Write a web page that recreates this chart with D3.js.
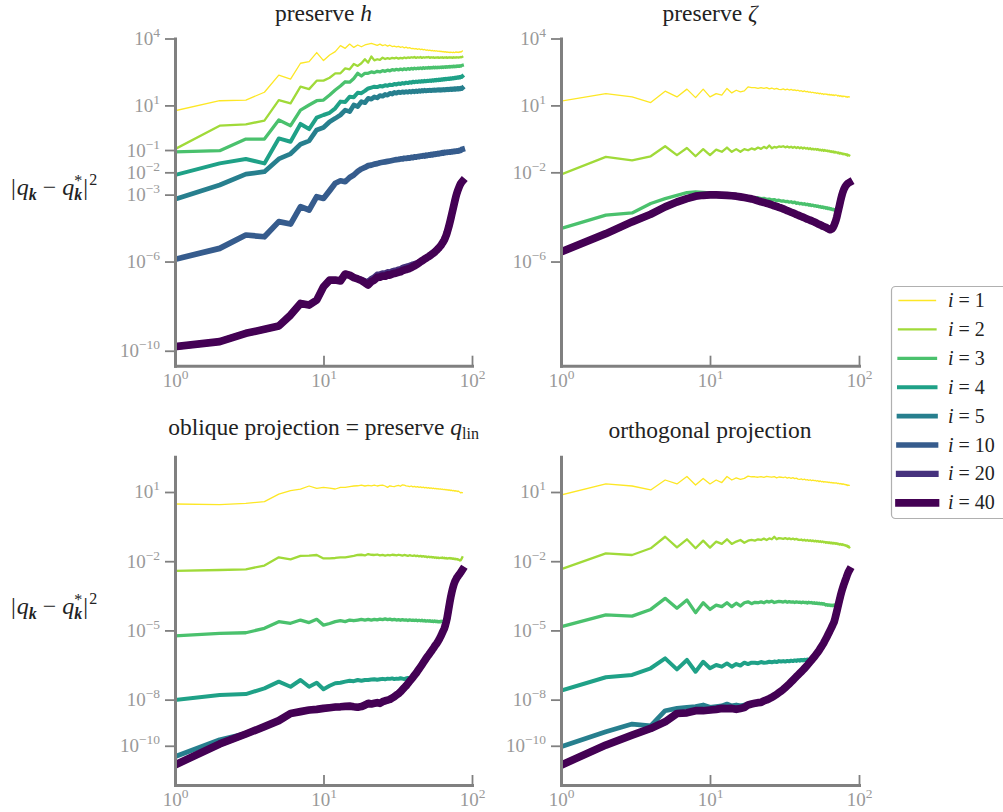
<!DOCTYPE html>
<html>
<head>
<meta charset="utf-8">
<script src="https://cdn.jsdelivr.net/npm/d3@7"></script>
<style>
  body { margin: 0; background: #fff; }
  svg, svg text { font-family: "Liberation Serif", "DejaVu Serif", serif; }
</style>
</head>
<body>
<svg id="chart" width="1003" height="812"></svg>
<script>
// Wavenumber index k on the x axis
const wavenumbers = d3.range(1, 87);
// Iteration counts shown in the legend
const iterationLabels = ["1", "2", "3", "4", "5", "10", "20", "40"];

// Tick exponents (labels 10^e) for each panel
const ticksPreserveH = [4, 1, -1, -2, -3, -6, -10];
const ticksPreserveZeta = [4, 1, -2, -6];
const ticksProjection = [1, -2, -5, -8, -10];
const xTickExponents = [0, 1, 2];

// log10 |q_k - q_k*|^2, one value per wavenumber k = 1..86

// --- preserve h ---
const preserveH_i1 = [0.76,1.21,1.24,1.59,2.36,2.18,2.89,2.96,3.37,3.01,
 3.26,3.41,3.68,3.56,3.75,3.60,3.71,3.63,3.71,3.75,
 3.78,3.74,3.69,3.75,3.68,3.72,3.66,3.70,3.64,3.66,
 3.62,3.65,3.60,3.63,3.58,3.61,3.57,3.59,3.55,3.56,
 3.53,3.55,3.51,3.54,3.50,3.52,3.49,3.51,3.47,3.49,
 3.46,3.48,3.45,3.47,3.44,3.46,3.43,3.45,3.42,3.44,
 3.41,3.43,3.40,3.42,3.39,3.41,3.38,3.40,3.38,3.39,
 3.37,3.39,3.38,3.37,3.39,3.37,3.38,3.40,3.38,3.39,
 3.37,3.40,3.38,3.41,3.40,3.44];
const preserveH_i2 = [-0.96,0.09,0.15,0.32,1.24,1.09,1.84,1.73,2.11,2.11,
 2.24,2.44,2.44,2.66,2.62,2.86,2.77,2.89,3.07,2.92,
 3.19,3.02,3.07,3.04,3.14,3.08,3.12,3.09,3.13,3.11,
 3.14,3.10,3.13,3.11,3.15,3.12,3.15,3.13,3.16,3.14,
 3.17,3.13,3.16,3.14,3.17,3.13,3.16,3.14,3.16,3.15,
 3.17,3.13,3.16,3.14,3.16,3.13,3.15,3.14,3.16,3.13,
 3.15,3.14,3.16,3.13,3.15,3.14,3.16,3.13,3.15,3.14,
 3.16,3.14,3.15,3.13,3.16,3.14,3.15,3.14,3.16,3.15,
 3.14,3.16,3.15,3.17,3.16,3.18];
const preserveH_i3 = [-1.08,-1.03,-0.51,-0.51,0.35,0.09,0.79,1.02,1.21,1.24,
 1.47,1.69,1.87,2.06,2.04,2.21,2.44,2.32,2.44,2.44,
 2.50,2.47,2.53,2.50,2.56,2.53,2.58,2.55,2.60,2.58,
 2.62,2.59,2.63,2.60,2.64,2.61,2.65,2.62,2.66,2.63,
 2.67,2.64,2.67,2.65,2.68,2.65,2.69,2.66,2.69,2.67,
 2.70,2.67,2.70,2.68,2.71,2.68,2.71,2.69,2.72,2.69,
 2.72,2.70,2.73,2.70,2.73,2.71,2.74,2.71,2.74,2.72,
 2.75,2.72,2.75,2.73,2.76,2.73,2.76,2.74,2.77,2.75,
 2.77,2.75,2.78,2.76,2.79,2.80];
const preserveH_i4 = [-2.12,-1.60,-1.40,-1.60,-0.48,-0.63,0.17,-0.06,0.45,0.57,
 0.67,0.87,1.17,1.15,1.39,1.37,1.57,1.55,1.65,1.76,
 1.80,1.84,1.82,1.87,1.85,1.90,1.88,1.93,1.91,1.96,
 1.94,1.98,1.96,2.00,1.98,2.02,2.00,2.04,2.02,2.06,
 2.04,2.07,2.05,2.08,2.06,2.09,2.07,2.10,2.08,2.11,
 2.09,2.12,2.10,2.13,2.11,2.14,2.12,2.15,2.13,2.16,
 2.14,2.17,2.15,2.18,2.16,2.19,2.17,2.20,2.18,2.21,
 2.19,2.22,2.20,2.23,2.21,2.24,2.22,2.25,2.23,2.26,
 2.24,2.27,2.25,2.28,2.27,2.30];
const preserveH_i5 = [-3.21,-2.57,-2.08,-1.97,-1.40,-1.17,-0.74,-0.59,-0.10,0.01,
 0.27,0.42,0.57,0.79,0.72,1.02,0.95,1.17,1.12,1.32,
 1.28,1.38,1.34,1.44,1.41,1.49,1.46,1.54,1.51,1.58,
 1.55,1.60,1.57,1.61,1.58,1.62,1.59,1.63,1.60,1.64,
 1.61,1.65,1.62,1.66,1.63,1.67,1.64,1.68,1.65,1.68,
 1.66,1.69,1.66,1.69,1.67,1.70,1.67,1.70,1.68,1.71,
 1.68,1.71,1.69,1.72,1.69,1.72,1.70,1.73,1.70,1.73,
 1.71,1.74,1.71,1.74,1.72,1.75,1.72,1.75,1.73,1.76,
 1.73,1.76,1.74,1.77,1.75,1.78];
const preserveH_i10 = [-5.90,-5.41,-4.81,-4.89,-4.21,-4.32,-3.54,-3.69,-3.09,-3.17,
 -2.82,-2.49,-2.38,-2.42,-2.23,-2.12,-1.96,-1.85,-1.78,-1.70,
 -1.68,-1.63,-1.61,-1.57,-1.55,-1.53,-1.51,-1.49,-1.47,-1.45,
 -1.43,-1.42,-1.40,-1.40,-1.37,-1.38,-1.35,-1.36,-1.33,-1.34,
 -1.31,-1.32,-1.29,-1.30,-1.27,-1.28,-1.25,-1.27,-1.23,-1.25,
 -1.22,-1.23,-1.20,-1.22,-1.18,-1.20,-1.17,-1.18,-1.15,-1.17,
 -1.14,-1.15,-1.12,-1.14,-1.11,-1.12,-1.10,-1.11,-1.09,-1.10,
 -1.08,-1.09,-1.07,-1.08,-1.06,-1.07,-1.05,-1.06,-1.04,-1.05,
 -1.03,-1.04,-1.01,-1.02,-0.98,-0.97];
const preserveH_i20 = [-9.82,-9.59,-9.22,-9.04,-8.89,-8.40,-7.88,-7.95,-7.73,-7.13,
 -6.83,-6.83,-6.87,-6.56,-6.61,-6.72,-6.78,-6.82,-6.88,-6.93,
 -6.78,-6.71,-6.59,-6.58,-6.53,-6.54,-6.48,-6.49,-6.44,-6.41,
 -6.39,-6.36,-6.34,-6.29,-6.26,-6.24,-6.21,-6.19,-6.16,-6.13,
 -6.11,-6.09,-6.07,-6.04,-6.01,-5.97,-5.93,-5.89,-5.85,-5.81,
 -5.78,-5.74,-5.70,-5.66,-5.62,-5.58,-5.53,-5.48,-5.43,-5.38,
 -5.32,-5.26,-5.19,-5.12,-5.04,-4.94,-4.83,-4.70,-4.55,-4.40,
 -4.24,-4.07,-3.90,-3.73,-3.56,-3.39,-3.23,-3.08,-2.95,-2.84,
 -2.74,-2.65,-2.57,-2.50,-2.45,-2.41];
const preserveH_i40 = [-9.82,-9.59,-9.22,-9.04,-8.89,-8.40,-7.88,-7.95,-7.73,-7.13,
 -6.83,-6.83,-6.87,-6.56,-6.61,-6.72,-6.78,-6.85,-6.95,-7.05,
 -6.90,-6.83,-6.71,-6.70,-6.65,-6.66,-6.60,-6.61,-6.56,-6.53,
 -6.51,-6.48,-6.46,-6.41,-6.38,-6.36,-6.33,-6.31,-6.27,-6.23,
 -6.19,-6.15,-6.11,-6.06,-6.01,-5.97,-5.93,-5.89,-5.85,-5.81,
 -5.78,-5.74,-5.70,-5.66,-5.62,-5.58,-5.53,-5.48,-5.43,-5.38,
 -5.32,-5.26,-5.19,-5.12,-5.04,-4.94,-4.83,-4.70,-4.55,-4.40,
 -4.24,-4.07,-3.90,-3.73,-3.56,-3.39,-3.23,-3.08,-2.95,-2.84,
 -2.74,-2.65,-2.57,-2.50,-2.45,-2.41];

// --- preserve zeta ---
const preserveZeta_i1 = [1.19,1.53,1.38,1.13,1.64,1.38,1.73,1.35,1.73,1.38,
 1.53,1.46,1.76,1.56,1.68,1.61,1.65,1.83,1.80,1.80,
 1.76,1.80,1.76,1.80,1.74,1.78,1.73,1.76,1.72,1.71,
 1.74,1.70,1.73,1.69,1.72,1.68,1.70,1.66,1.68,1.64,
 1.66,1.62,1.65,1.61,1.63,1.59,1.61,1.57,1.59,1.56,
 1.57,1.54,1.56,1.52,1.55,1.51,1.53,1.49,1.52,1.50,
 1.51,1.47,1.50,1.46,1.49,1.45,1.48,1.44,1.47,1.46,
 1.46,1.42,1.45,1.41,1.44,1.40,1.43,1.39,1.42,1.41,
 1.40,1.37,1.40,1.36,1.39,1.38];
const preserveZeta_i2 = [-2.10,-1.31,-1.46,-1.28,-0.83,-1.23,-0.91,-1.28,-0.96,-1.23,
 -0.98,-1.08,-0.89,-1.08,-0.96,-1.08,-0.96,-1.01,-0.93,-0.98,
 -0.89,-0.95,-0.86,-0.92,-0.80,-0.92,-0.86,-0.89,-0.84,-0.86,
 -0.83,-0.88,-0.84,-0.89,-0.85,-0.90,-0.86,-0.91,-0.87,-0.92,
 -0.88,-0.93,-0.89,-0.94,-0.91,-0.96,-0.92,-0.97,-0.94,-0.98,
 -0.95,-0.99,-0.96,-1.01,-0.98,-1.02,-0.99,-1.04,-1.00,-1.04,
 -1.02,-1.06,-1.03,-1.08,-1.05,-1.09,-1.06,-1.11,-1.08,-1.11,
 -1.10,-1.14,-1.11,-1.16,-1.13,-1.17,-1.15,-1.19,-1.16,-1.19,
 -1.18,-1.22,-1.19,-1.25,-1.22,-1.24];
const preserveZeta_i3 = [-4.52,-3.92,-3.82,-3.40,-3.18,-3.03,-2.91,-2.88,-2.90,-2.92,
 -2.95,-2.97,-3.00,-3.02,-3.04,-3.06,-3.08,-3.10,-3.13,-3.15,
 -3.14,-3.18,-3.17,-3.21,-3.20,-3.24,-3.22,-3.27,-3.25,-3.29,
 -3.28,-3.31,-3.30,-3.34,-3.32,-3.36,-3.34,-3.39,-3.37,-3.41,
 -3.39,-3.43,-3.41,-3.45,-3.43,-3.47,-3.45,-3.49,-3.47,-3.51,
 -3.49,-3.53,-3.51,-3.55,-3.53,-3.57,-3.55,-3.59,-3.57,-3.61,
 -3.59,-3.63,-3.61,-3.65,-3.63,-3.67,-3.65,-3.69,-3.68,-3.70,
 -3.85,-3.80,-3.65,-3.48,-3.30,-3.14,-3.00,-2.88,-2.78,-2.70,
 -2.63,-2.58,-2.54,-2.50,-2.48,-2.46];
// i = 4 ... 40 lie on one curve in this panel
const preserveZeta_late = [-5.57,-4.75,-4.22,-3.88,-3.55,-3.33,-3.18,-3.07,-3.03,-3.01,
 -3.01,-3.02,-3.03,-3.05,-3.07,-3.10,-3.13,-3.16,-3.19,-3.23,
 -3.28,-3.32,-3.35,-3.39,-3.42,-3.46,-3.50,-3.53,-3.57,-3.60,
 -3.64,-3.68,-3.72,-3.75,-3.79,-3.82,-3.85,-3.89,-3.92,-3.95,
 -3.98,-4.01,-4.04,-4.07,-4.10,-4.12,-4.15,-4.17,-4.20,-4.22,
 -4.25,-4.28,-4.31,-4.33,-4.36,-4.38,-4.41,-4.43,-4.45,-4.47,
 -4.50,-4.52,-4.55,-4.57,-4.56,-4.53,-4.47,-4.38,-4.27,-4.15,
 -4.00,-3.82,-3.65,-3.48,-3.30,-3.14,-3.00,-2.88,-2.78,-2.70,
 -2.63,-2.58,-2.54,-2.50,-2.48,-2.46];

// --- oblique projection ---
const oblique_i1 = [0.48,0.45,0.51,0.58,0.91,1.06,1.12,1.26,1.16,1.20,
 1.17,1.13,1.20,1.20,1.23,1.26,1.27,1.30,1.26,1.29,
 1.27,1.30,1.26,1.29,1.30,1.26,1.20,1.27,1.24,1.23,
 1.27,1.29,1.25,1.31,1.30,1.27,1.25,1.23,1.26,1.22,
 1.24,1.21,1.23,1.20,1.22,1.19,1.21,1.18,1.20,1.17,
 1.19,1.16,1.18,1.15,1.17,1.14,1.16,1.13,1.15,1.12,
 1.14,1.11,1.13,1.10,1.12,1.09,1.11,1.08,1.10,1.07,
 1.09,1.06,1.08,1.05,1.07,1.04,1.06,1.03,1.05,1.02,
 1.04,1.01,0.99,0.96,0.98,0.97];
const oblique_i2 = [-2.42,-2.38,-2.35,-2.19,-1.83,-1.92,-1.77,-1.76,-1.73,-1.88,
 -1.88,-1.86,-1.83,-1.83,-1.80,-1.77,-1.73,-1.72,-1.75,-1.69,
 -1.72,-1.73,-1.71,-1.75,-1.73,-1.76,-1.73,-1.75,-1.72,-1.73,
 -1.75,-1.72,-1.74,-1.76,-1.73,-1.75,-1.77,-1.74,-1.76,-1.77,
 -1.75,-1.78,-1.76,-1.79,-1.77,-1.80,-1.78,-1.81,-1.79,-1.83,
 -1.80,-1.83,-1.81,-1.84,-1.82,-1.85,-1.83,-1.86,-1.84,-1.87,
 -1.85,-1.86,-1.84,-1.87,-1.85,-1.88,-1.86,-1.89,-1.87,-1.88,
 -1.86,-1.89,-1.87,-1.90,-1.88,-1.91,-1.89,-1.92,-1.90,-1.93,
 -1.92,-1.95,-1.97,-1.96,-1.90,-1.83];
const oblique_i3 = [-5.24,-5.13,-5.10,-4.91,-4.62,-4.69,-4.55,-4.66,-4.52,-4.77,
 -4.70,-4.62,-4.58,-4.62,-4.55,-4.58,-4.55,-4.52,-4.55,-4.52,
 -4.55,-4.52,-4.54,-4.51,-4.53,-4.50,-4.53,-4.51,-4.54,-4.52,
 -4.55,-4.53,-4.56,-4.53,-4.55,-4.54,-4.57,-4.54,-4.56,-4.55,
 -4.57,-4.55,-4.58,-4.56,-4.58,-4.56,-4.59,-4.57,-4.60,-4.58,
 -4.60,-4.58,-4.61,-4.59,-4.62,-4.59,-4.62,-4.60,-4.63,-4.61,
 -4.63,-4.60,-4.62,-4.60,-4.61,-4.59,-4.64,-4.46,-4.22,-3.98,
 -3.75,-3.54,-3.36,-3.20,-3.06,-2.95,-2.86,-2.79,-2.72,-2.67,
 -2.62,-2.58,-2.53,-2.48,-2.43,-2.38];
const oblique_i4 = [-8.02,-7.80,-7.76,-7.51,-7.22,-7.44,-7.15,-7.44,-7.27,-7.55,
 -7.40,-7.29,-7.27,-7.22,-7.18,-7.20,-7.15,-7.18,-7.15,-7.15,
 -7.13,-7.12,-7.14,-7.12,-7.10,-7.12,-7.09,-7.10,-7.08,-7.11,
 -7.09,-7.10,-7.07,-7.09,-7.11,-7.08,-7.06,-7.09,-7.07,-7.05,
 -6.94,-6.86,-6.76,-6.67,-6.58,-6.49,-6.40,-6.31,-6.22,-6.14,
 -6.07,-5.99,-5.92,-5.84,-5.77,-5.69,-5.62,-5.56,-5.48,-5.40,
 -5.31,-5.22,-5.12,-5.02,-4.93,-4.80,-4.64,-4.46,-4.22,-3.98,
 -3.75,-3.54,-3.36,-3.20,-3.06,-2.95,-2.86,-2.79,-2.72,-2.67,
 -2.62,-2.58,-2.53,-2.48,-2.43,-2.38];
const oblique_i5 = [-10.47,-9.74,-9.47,-9.17,-8.91,-8.60,-8.52,-8.45,-8.42,-8.38,
 -8.35,-8.32,-8.31,-8.29,-8.28,-8.31,-8.33,-8.30,-8.24,-8.16,
 -8.19,-8.16,-8.13,-8.16,-8.09,-8.05,-8.02,-7.99,-7.93,-7.87,
 -7.80,-7.74,-7.66,-7.57,-7.48,-7.40,-7.30,-7.21,-7.12,-7.03,
 -6.94,-6.86,-6.76,-6.67,-6.58,-6.49,-6.40,-6.31,-6.22,-6.14,
 -6.07,-5.99,-5.92,-5.84,-5.77,-5.69,-5.62,-5.56,-5.48,-5.40,
 -5.31,-5.22,-5.12,-5.02,-4.93,-4.80,-4.64,-4.46,-4.22,-3.98,
 -3.75,-3.54,-3.36,-3.20,-3.06,-2.95,-2.86,-2.79,-2.72,-2.67,
 -2.62,-2.58,-2.53,-2.48,-2.43,-2.38];
// i = 10, 20, 40 coincide
const oblique_late = [-10.83,-9.92,-9.49,-9.17,-8.91,-8.60,-8.52,-8.45,-8.42,-8.38,
 -8.35,-8.32,-8.31,-8.29,-8.28,-8.31,-8.33,-8.30,-8.24,-8.16,
 -8.19,-8.16,-8.13,-8.16,-8.09,-8.05,-8.02,-7.99,-7.93,-7.87,
 -7.80,-7.74,-7.66,-7.57,-7.48,-7.40,-7.30,-7.21,-7.12,-7.03,
 -6.94,-6.86,-6.76,-6.67,-6.58,-6.49,-6.40,-6.31,-6.22,-6.14,
 -6.07,-5.99,-5.92,-5.84,-5.77,-5.69,-5.62,-5.56,-5.48,-5.40,
 -5.31,-5.22,-5.12,-5.02,-4.93,-4.80,-4.64,-4.46,-4.22,-3.98,
 -3.75,-3.54,-3.36,-3.20,-3.06,-2.95,-2.86,-2.79,-2.72,-2.67,
 -2.62,-2.58,-2.53,-2.48,-2.43,-2.38];

// --- orthogonal projection ---
const orthogonal_i1 = [0.87,1.35,1.26,1.09,1.52,1.35,1.67,1.30,1.59,1.35,
 1.52,1.41,1.67,1.52,1.61,1.55,1.59,1.69,1.66,1.66,
 1.64,1.67,1.63,1.68,1.66,1.64,1.67,1.61,1.65,1.64,
 1.62,1.65,1.60,1.63,1.59,1.62,1.58,1.60,1.56,1.55,
 1.57,1.53,1.56,1.52,1.54,1.50,1.53,1.49,1.51,1.49,
 1.50,1.47,1.49,1.45,1.48,1.44,1.46,1.43,1.45,1.43,
 1.44,1.41,1.43,1.40,1.42,1.39,1.41,1.38,1.40,1.38,
 1.39,1.36,1.38,1.35,1.37,1.34,1.36,1.33,1.35,1.32,
 1.33,1.30,1.32,1.28,1.30,1.29];
const orthogonal_i2 = [-2.35,-1.66,-1.73,-1.44,-0.94,-1.40,-1.05,-1.44,-1.11,-1.41,
 -1.15,-1.25,-1.05,-1.25,-1.15,-1.08,-1.20,-1.11,-1.08,-1.11,
 -1.05,-1.08,-1.02,-1.08,-1.01,-1.05,-0.94,-1.05,-1.00,-1.01,
 -1.03,-1.00,-1.04,-1.01,-1.05,-1.02,-1.06,-1.03,-1.07,-1.08,
 -1.06,-1.10,-1.07,-1.11,-1.08,-1.12,-1.09,-1.13,-1.10,-1.14,
 -1.11,-1.15,-1.12,-1.16,-1.13,-1.17,-1.14,-1.18,-1.16,-1.20,
 -1.17,-1.21,-1.18,-1.22,-1.19,-1.23,-1.20,-1.24,-1.21,-1.25,
 -1.22,-1.26,-1.24,-1.28,-1.25,-1.29,-1.26,-1.30,-1.28,-1.31,
 -1.30,-1.34,-1.32,-1.37,-1.35,-1.40];
const orthogonal_i3 = [-4.84,-4.33,-4.38,-4.09,-3.61,-4.04,-3.68,-4.23,-3.80,-4.09,
 -3.90,-3.97,-3.80,-3.97,-3.82,-3.94,-3.80,-3.76,-3.84,-3.78,
 -3.80,-3.76,-3.80,-3.74,-3.77,-3.73,-3.79,-3.76,-3.74,-3.75,
 -3.77,-3.74,-3.78,-3.75,-3.77,-3.76,-3.79,-3.76,-3.78,-3.77,
 -3.80,-3.77,-3.79,-3.78,-3.81,-3.78,-3.80,-3.79,-3.82,-3.80,
 -3.83,-3.81,-3.84,-3.82,-3.85,-3.83,-3.86,-3.84,-3.87,-3.90,
 -3.88,-3.91,-3.89,-3.92,-3.90,-3.93,-3.90,-3.92,-3.89,-3.91,
 -3.93,-4.00,-3.84,-3.68,-3.52,-3.38,-3.25,-3.13,-3.02,-2.92,
 -2.82,-2.73,-2.63,-2.54,-2.46,-2.40];
const orthogonal_i4 = [-7.61,-7.03,-6.93,-6.64,-6.21,-6.69,-6.28,-6.79,-6.36,-6.64,
 -6.50,-6.57,-6.43,-6.57,-6.46,-6.52,-6.40,-6.46,-6.40,-6.40,
 -6.42,-6.37,-6.40,-6.39,-6.36,-6.38,-6.35,-6.37,-6.33,-6.35,
 -6.33,-6.35,-6.32,-6.34,-6.31,-6.33,-6.30,-6.32,-6.29,-6.31,
 -6.28,-6.30,-6.27,-6.29,-6.26,-6.28,-6.27,-6.29,-6.22,-6.15,
 -6.08,-6.01,-5.94,-5.86,-5.78,-5.70,-5.62,-5.54,-5.45,-5.36,
 -5.27,-5.18,-5.09,-5.00,-4.91,-4.82,-4.73,-4.64,-4.49,-4.33,
 -4.17,-4.00,-3.84,-3.68,-3.52,-3.38,-3.25,-3.13,-3.02,-2.92,
 -2.82,-2.73,-2.63,-2.54,-2.46,-2.40];
const orthogonal_i5 = [-10.04,-9.39,-9.06,-9.14,-8.48,-8.38,-8.33,-8.30,-8.23,-8.33,
 -8.30,-8.27,-8.19,-8.27,-8.23,-8.27,-8.23,-8.19,-8.17,-8.16,
 -8.13,-8.12,-8.05,-8.01,-7.96,-7.90,-7.84,-7.77,-7.70,-7.63,
 -7.56,-7.48,-7.40,-7.32,-7.24,-7.16,-7.08,-7.00,-6.93,-6.86,
 -6.79,-6.72,-6.65,-6.58,-6.51,-6.43,-6.36,-6.29,-6.22,-6.15,
 -6.08,-6.01,-5.94,-5.86,-5.78,-5.70,-5.62,-5.54,-5.45,-5.36,
 -5.27,-5.18,-5.09,-5.00,-4.91,-4.82,-4.73,-4.64,-4.49,-4.33,
 -4.17,-4.00,-3.84,-3.68,-3.52,-3.38,-3.25,-3.13,-3.02,-2.92,
 -2.82,-2.73,-2.63,-2.54,-2.46,-2.40];
// i = 10, 20, 40 coincide
const orthogonal_late = [-10.84,-9.97,-9.54,-9.25,-8.96,-8.60,-8.57,-8.48,-8.48,-8.45,
 -8.42,-8.38,-8.39,-8.38,-8.42,-8.38,-8.34,-8.23,-8.19,-8.16,
 -8.13,-8.12,-8.05,-8.01,-7.96,-7.90,-7.84,-7.77,-7.70,-7.63,
 -7.56,-7.48,-7.40,-7.32,-7.24,-7.16,-7.08,-7.00,-6.93,-6.86,
 -6.79,-6.72,-6.65,-6.58,-6.51,-6.43,-6.36,-6.29,-6.22,-6.15,
 -6.08,-6.01,-5.94,-5.86,-5.78,-5.70,-5.62,-5.54,-5.45,-5.36,
 -5.27,-5.18,-5.09,-5.00,-4.91,-4.82,-4.73,-4.64,-4.49,-4.33,
 -4.17,-4.00,-3.84,-3.68,-3.52,-3.38,-3.25,-3.13,-3.02,-2.92,
 -2.82,-2.73,-2.63,-2.54,-2.46,-2.40];

// ---------------- layout and styling ----------------
const FONT = '"Liberation Serif", "DejaVu Serif", serif';
const colX = [[175, 472], [561, 859]];          // left/right edge of each column of axes
const rowY = [[38.5, 365.7], [456.7, 785]];     // top/bottom edge of each row of axes
const rowLimits = [[-10.67, 4], [-11.70, 2.53]]; // log10 y limits per row
const lineWidths = [1.3, 2.3, 3.3, 4.0, 4.7, 5.7, 6.3, 7.7];
const colour = j => d3.interpolateViridis(1 - j / 7);
const spineColour = "#808080";
const tickTextColour = "#999999";
const textColour = "#222222";

const panels = [
  { row: 0, col: 0, titleY: 20.5,
    title: [{ t: "preserve " }, { t: "h", italic: true }],
    yTicks: ticksPreserveH,
    series: [preserveH_i1, preserveH_i2, preserveH_i3, preserveH_i4,
             preserveH_i5, preserveH_i10, preserveH_i20, preserveH_i40] },
  { row: 0, col: 1, titleY: 20.5,
    title: [{ t: "preserve " }, { t: "ζ", italic: true }],
    yTicks: ticksPreserveZeta,
    series: [preserveZeta_i1, preserveZeta_i2, preserveZeta_i3, preserveZeta_late,
             preserveZeta_late, preserveZeta_late, preserveZeta_late, preserveZeta_late] },
  { row: 1, col: 0, titleY: 435,
    title: [{ t: "oblique projection = preserve " }, { t: "q", italic: true },
            { t: "lin", size: 16, dy: 4 }],
    yTicks: ticksProjection,
    series: [oblique_i1, oblique_i2, oblique_i3, oblique_i4,
             oblique_i5, oblique_late, oblique_late, oblique_late] },
  { row: 1, col: 1, titleY: 437.5,
    title: [{ t: "orthogonal projection" }],
    yTicks: ticksProjection,
    series: [orthogonal_i1, orthogonal_i2, orthogonal_i3, orthogonal_i4,
             orthogonal_i5, orthogonal_late, orthogonal_late, orthogonal_late] }
];

const svg = d3.select("#chart");
const defs = svg.append("defs");

// superscript label 10^e
function powerLabel(sel, e) {
  sel.append("tspan").text("10");
  sel.append("tspan").attr("font-size", 13.5).attr("dy", -8)
     .text(e < 0 ? "\u2212" + Math.abs(e) : String(e));
}

panels.forEach((p, pi) => {
  const [x0, x1] = colX[p.col];
  const [y0, y1] = rowY[p.row];
  const x = d3.scaleLog().domain([1, 100]).range([x0, x1]);
  const y = d3.scaleLog().domain(rowLimits[p.row].map(e => Math.pow(10, e))).range([y1, y0]);

  defs.append("clipPath").attr("id", "clip" + pi)
    .append("rect").attr("x", x0).attr("y", y0).attr("width", x1 - x0).attr("height", y1 - y0);

  const g = svg.append("g");
  const lines = g.append("g").attr("clip-path", `url(#clip${pi})`);
  const line = d3.line().x(d => x(d.k)).y(d => y(d.v));

  p.series.forEach((vals, j) => {
    const pts = vals.map((v, idx) => ({ k: wavenumbers[idx], v: Math.pow(10, v) }));
    lines.append("path").datum(pts)
      .attr("d", line)
      .attr("fill", "none")
      .attr("stroke", colour(j))
      .attr("stroke-width", lineWidths[j])
      .attr("stroke-linejoin", "round")
      .attr("stroke-linecap", "square");
  });

  // y axis (ticks outward to the left)
  const yAxis = d3.axisLeft(y)
    .tickValues(p.yTicks.map(e => Math.pow(10, e)))
    .tickSizeInner(10).tickSizeOuter(0).tickFormat("");
  const ya = g.append("g").attr("transform", `translate(${x0},0)`).call(yAxis);
  ya.selectAll(".tick").each(function (d, i) {
    d3.select(this).append("text")
      .attr("x", -15).attr("y", 6)
      .attr("text-anchor", "end")
      .attr("fill", tickTextColour)
      .attr("font-family", FONT)
      .attr("font-size", 19)
      .call(s => powerLabel(s, p.yTicks[i]));
  });

  // x axis (ticks point into the axes)
  const xAxis = d3.axisBottom(x)
    .tickValues(xTickExponents.map(e => Math.pow(10, e)))
    .tickSizeInner(-10).tickSizeOuter(0).tickFormat("");
  const xa = g.append("g").attr("transform", `translate(0,${y1})`).call(xAxis);
  xa.selectAll(".tick").each(function (d, i) {
    d3.select(this).append("text")
      .attr("x", 0).attr("y", 21)
      .attr("text-anchor", "middle")
      .attr("fill", tickTextColour)
      .attr("font-family", FONT)
      .attr("font-size", 19)
      .call(s => powerLabel(s, xTickExponents[i]));
  });

  [ya, xa].forEach(a => {
    a.attr("font-family", FONT);
    a.select(".domain").attr("stroke", spineColour).attr("stroke-width", 3)
      .attr("stroke-linecap", "square");
    a.selectAll(".tick line").attr("stroke", spineColour).attr("stroke-width", 1.8);
  });

  // title
  const title = g.append("text")
    .attr("x", (x0 + x1) / 2).attr("y", p.titleY)
    .attr("text-anchor", "middle")
    .attr("fill", textColour)
    .attr("font-family", FONT)
    .attr("font-size", 23.5);
  p.title.forEach(part => {
    const ts = title.append("tspan").text(part.t);
    if (part.italic) ts.attr("font-style", "italic");
    if (part.size) ts.attr("font-size", part.size);
    if (part.dy) ts.attr("dy", part.dy);
  });
});

// y-axis label |q_k - q_k^*|^2 as one text element; the star sits above the subscript
function drawErrorLabel(x, y) {
  const t = svg.append("text")
    .attr("x", x).attr("y", y)
    .attr("font-family", FONT)
    .attr("font-size", 24)
    .attr("fill", textColour);
  t.append("tspan").text("|");
  t.append("tspan").attr("font-style", "italic").attr("dx", 1).text("q");
  t.append("tspan").attr("font-style", "italic").attr("font-weight", "bold")
    .attr("font-size", 16).attr("dy", 5).text("k");
  t.append("tspan").attr("dy", -5).attr("dx", 6).text("\u2212");
  t.append("tspan").attr("font-style", "italic").attr("dx", 6).text("q");
  const sub = t.append("tspan").attr("font-style", "italic").attr("font-weight", "bold")
    .attr("font-size", 16).attr("dy", 5).text("k");
  const kw = sub.node().getComputedTextLength();
  const star = t.append("tspan").attr("font-size", 16).attr("dy", -14).text("*");
  const sw = star.node().getComputedTextLength();
  star.attr("dx", -kw + (kw - sw) / 2);
  t.append("tspan").attr("dy", 9).attr("dx", (kw - sw) / 2 + 1).text("|");
  t.append("tspan").attr("font-size", 16).attr("dy", -10).attr("dx", 1).text("2");
}
drawErrorLabel(11, 195);
drawErrorLabel(11, 614);

// legend
const legend = svg.append("g");
legend.append("rect")
  .attr("x", 891.5).attr("y", 286.5).attr("width", 130).attr("height", 232)
  .attr("rx", 4).attr("fill", "#fff").attr("stroke", "#b0b0b0").attr("stroke-width", 1.2);
iterationLabels.forEach((lab, j) => {
  const yy = 300.5 + j * 28.9;
  legend.append("line")
    .attr("x1", 899).attr("x2", 935.5).attr("y1", yy).attr("y2", yy)
    .attr("stroke", colour(j)).attr("stroke-width", lineWidths[j])
    .attr("stroke-linecap", "square");
  const t = legend.append("text")
    .attr("x", 948).attr("y", yy + 6.5)
    .attr("font-family", FONT)
    .attr("font-size", 20).attr("fill", textColour);
  t.append("tspan").attr("font-style", "italic").text("i");
  t.append("tspan").text(" = " + lab);
});
</script>
</body>
</html>
